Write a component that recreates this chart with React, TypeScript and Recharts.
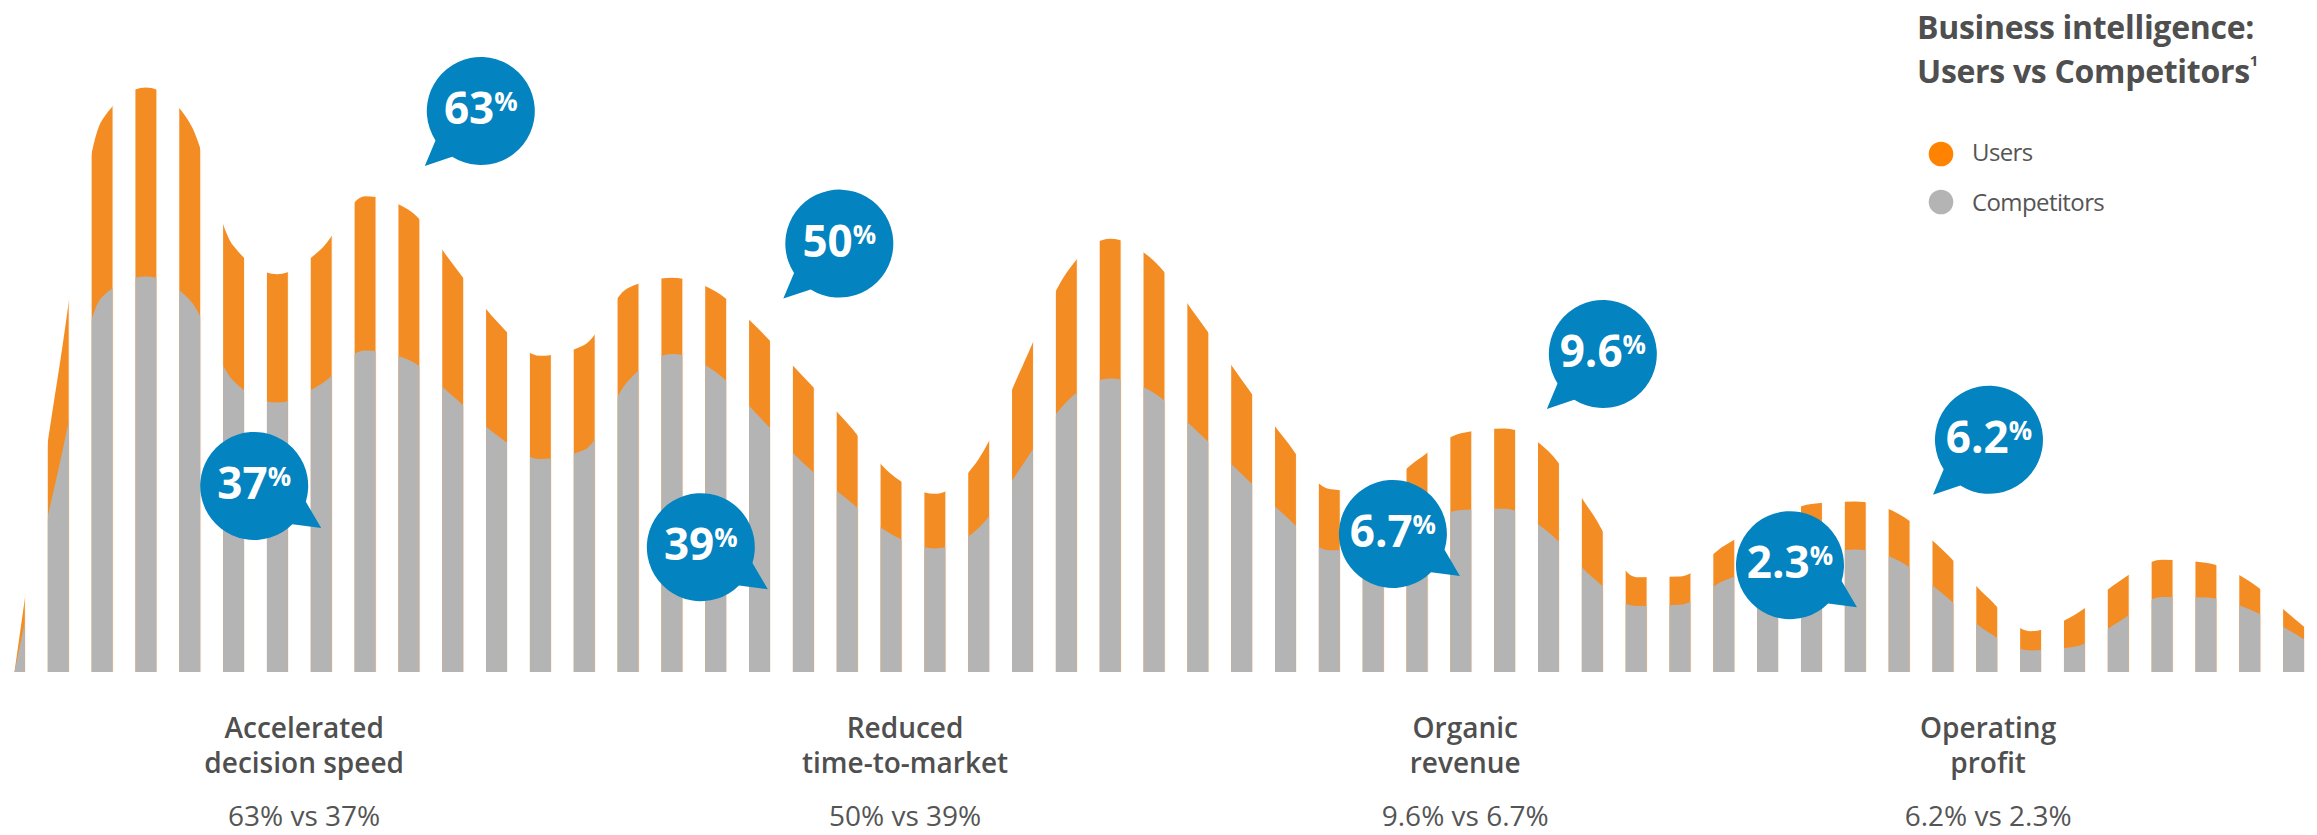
import { Area, AreaChart, ReferenceDot, XAxis, YAxis } from "recharts";

// one value per stripe, left to right (the last one only shapes the edge of the final stripe)
const users = [
  0, 49.7, 92, 97.4, 91.5, 71, 66.3, 70.5, 79.3, 77, 68, 58.5, 52.7, 54.5, 64,
  65.7, 63.4, 57, 49.2, 41.5, 33, 29.7, 35.5, 51, 66.5, 72.2, 68.5, 59, 48.7,
  38.7, 30.5, 30, 35.3, 39.8, 40.6, 36.8, 26.4, 15.8, 15.9, 21, 25, 28, 28.4,
  26.3, 20.3, 12.6, 6.8, 9.5, 15, 18.7, 18.2, 15.1, 9, 3,
];
const competitors = [
  0, 33.6, 62.5, 65.9, 62, 48.5, 44.9, 48, 53.6, 52, 46, 39.5, 35.5, 37, 48.5,
  53, 50, 42.5, 34.8, 28.8, 23, 20.6, 24, 34.5, 45, 48.9, 46.5, 40, 33, 26,
  20.3, 20.5, 24, 27, 27.2, 23.3, 15.8, 11, 11.2, 15.2, 17.5, 19.5, 20.4, 18.5,
  13, 6.8, 3.6, 4.2, 8.3, 12.5, 12.4, 10.4, 6.5, 2,
];

const metrics = [
  ["Accelerated", "decision speed"],
  ["Reduced", "time-to-market"],
  ["Organic", "revenue"],
  ["Operating", "profit"],
];
const usersScores = ["63", "50", "9.6", "6.2"];
const competitorScores = ["37", "39", "6.7", "2.3"];

// where each metric sits along the stripes
const metricSlots = [6.61, 20.32, 33.1, 45.03];
// callout anchors in chart units: [slot, value]
const usersCallouts = [
  [10.64, 93.5],
  [18.82, 71.4],
  [36.24, 53],
  [45.05, 38.7],
];
const competitorCallouts = [
  [5.47, 31],
  [15.66, 20.8],
  [31.45, 23],
  [40.51, 17.8],
];

const data = users.map((u, i) => ({
  slot: i,
  users: u,
  competitors: competitors[i],
}));

const W = 2317;
const H = 835;
const ORANGE = "#F38D23";
const GREY = "#B4B4B4";
const BLUE = "#0383C0";
const TEXT = "#4F4F4F";
const FONT = "'Open Sans', 'Noto Sans', sans-serif";
const PERIOD = 43.83;

function Bubble(props: any) {
  const { cx, cy, label, tail } = props;
  if (cx == null || cy == null) return null;
  const r = 54;
  const [a1, a2, tx, ty] =
    tail === "left" ? [122, 147, -56, 55] : [17, 45, 67, 42];
  const pt = (a: number) => [
    cx + r * Math.cos((a * Math.PI) / 180),
    cy + r * Math.sin((a * Math.PI) / 180),
  ];
  const [x1, y1] = pt(a1);
  const [x2, y2] = pt(a2);
  const d = `M${x1},${y1} L${cx + tx},${cy + ty} L${x2},${y2} A${r},${r} 0 1 1 ${x1},${y1} Z`;
  return (
    <g>
      <path d={d} fill={BLUE} />
      <text
        x={cx}
        y={cy + 13}
        textAnchor="middle"
        fill="#fff"
        fontFamily={FONT}
        fontWeight={700}
      >
        <tspan fontSize={44}>{label}</tspan>
        <tspan fontSize={26} dy={-13}>
          %
        </tspan>
      </text>
    </g>
  );
}

function MetricLabel(props: any) {
  const { cx, cy, lines, compare } = props;
  if (cx == null || cy == null) return null;
  return (
    <g fontFamily={FONT} textAnchor="middle">
      <text x={cx} y={cy + 66} fontSize={28} fontWeight={600} fill={TEXT}>
        {lines[0]}
      </text>
      <text x={cx} y={cy + 101} fontSize={28} fontWeight={600} fill={TEXT}>
        {lines[1]}
      </text>
      <text x={cx} y={cy + 154} fontSize={28} fontWeight={400} fill="#555">
        {compare}
      </text>
    </g>
  );
}

export default function App() {
  return (
    <div
      style={{
        position: "absolute",
        left: 0,
        top: 0,
        width: W,
        height: H,
        background: "#fff",
      }}
    >
      <AreaChart
        width={W}
        height={H}
        data={data}
        margin={{ top: 72, right: 0, bottom: 163, left: 0 }}
      >
        <defs>
          <pattern
            id="usersStripes"
            patternUnits="userSpaceOnUse"
            x={3.95}
            y={0}
            width={PERIOD}
            height={H}
          >
            <rect x={0} y={0} width={21} height={H} fill={ORANGE} />
          </pattern>
          <pattern
            id="competitorStripes"
            patternUnits="userSpaceOnUse"
            x={3.95}
            y={0}
            width={PERIOD}
            height={H}
          >
            <rect x={0} y={0} width={21} height={H} fill={GREY} />
          </pattern>
        </defs>
        <XAxis
          dataKey="slot"
          type="number"
          domain={[-0.3297, 52.534]}
          allowDataOverflow
          hide
        />
        <YAxis type="number" domain={[0, 100]} allowDataOverflow hide />
        <Area
          dataKey="users"
          name="Users"
          type="monotone"
          stroke="none"
          fill="url(#usersStripes)"
          fillOpacity={1}
          dot={false}
          activeDot={false}
          isAnimationActive={false}
        />
        <Area
          dataKey="competitors"
          name="Competitors"
          type="monotone"
          stroke="none"
          fill="url(#competitorStripes)"
          fillOpacity={1}
          dot={false}
          activeDot={false}
          isAnimationActive={false}
        />
        {metrics.map((lines, i) => (
          <ReferenceDot
            key={`m${i}`}
            x={metricSlots[i]}
            y={0}
            r={1}
            ifOverflow="visible"
            shape={(p: any) => (
              <MetricLabel
                cx={p.cx}
                cy={p.cy}
                lines={lines}
                compare={`${usersScores[i]}% vs ${competitorScores[i]}%`}
              />
            )}
          />
        ))}
        {competitorCallouts.map(([sx, sy], i) => (
          <ReferenceDot
            key={`c${i}`}
            x={sx}
            y={sy}
            r={54}
            ifOverflow="visible"
            shape={(p: any) => (
              <Bubble
                cx={p.cx}
                cy={p.cy}
                label={competitorScores[i]}
                tail="right"
              />
            )}
          />
        ))}
        {usersCallouts.map(([sx, sy], i) => (
          <ReferenceDot
            key={`u${i}`}
            x={sx}
            y={sy}
            r={54}
            ifOverflow="visible"
            shape={(p: any) => (
              <Bubble cx={p.cx} cy={p.cy} label={usersScores[i]} tail="left" />
            )}
          />
        ))}
      </AreaChart>

      <svg
        width={W}
        height={H}
        style={{ position: "absolute", left: 0, top: 0, pointerEvents: "none" }}
      >
        <g fontFamily={FONT} fill={TEXT}>
          <text x={1917} y={39} fontSize={32} fontWeight={700} letterSpacing={-0.3}>
            Business intelligence:
          </text>
          <text x={1917} y={83} fontSize={32} fontWeight={700} letterSpacing={-0.3}>
            Users vs Competitors
            <tspan fontSize={15} dy={-17}>
              1
            </tspan>
          </text>
          <circle cx={1941} cy={154} r={12.3} fill="#FF8300" />
          <text x={1972} y={161} fontSize={24} letterSpacing={-0.6} fill="#555">
            Users
          </text>
          <circle cx={1941} cy={202} r={12.3} fill={GREY} />
          <text x={1972} y={211} fontSize={24} letterSpacing={-0.6} fill="#555">
            Competitors
          </text>
        </g>
      </svg>
    </div>
  );
}
